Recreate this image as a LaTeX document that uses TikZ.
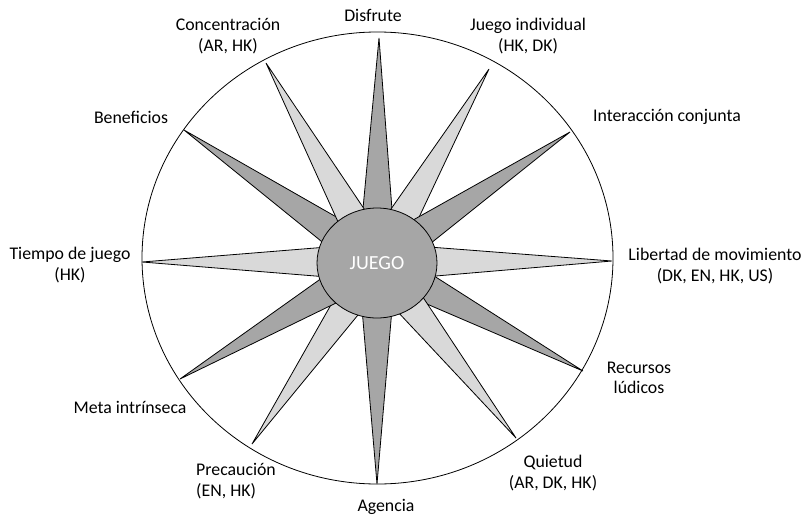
\documentclass[tikz,border=0pt]{standalone}
\usepackage{fontspec}
\setmainfont{Carlito}
\usetikzlibrary{calc,shapes.geometric}
\definecolor{darkspike}{RGB}{166,166,166}
\definecolor{lightspike}{RGB}{217,217,217}
\tikzset{
  lbl/.style={align=center, inner sep=0pt, font=\fontsize{17.8}{20.5}\selectfont},
  darkray/.style={fill=darkspike, draw=black, line width=0.8pt, line join=miter},
  lightray/.style={fill=lightspike, draw=black, line width=0.8pt, line join=miter},
}
\begin{document}
\begin{tikzpicture}[x=1pt,y=-1pt]
\useasboundingbox (0,0) rectangle (803,519);
% outer ellipse
\draw[line width=0.8pt] (377.5,258) ellipse [x radius=235.5, y radius=226];
\coordinate (C) at (377,262);
% tips
\coordinate (tDis) at (379,38);
\coordinate (tJue) at (489,69);
\coordinate (tInt) at (570,132);
\coordinate (tLib) at (612,261);
\coordinate (tRec) at (583,371);
\coordinate (tQui) at (516,438);
\coordinate (tAge) at (377,484);
\coordinate (tPre) at (252,444);
\coordinate (tMet) at (180,379);
\coordinate (tTie) at (142,262);
\coordinate (tBen) at (184,130);
\coordinate (tCon) at (266,63);
% rays
\foreach \t/\s in {tDis/darkray,tJue/lightray,tInt/darkray,tLib/lightray,tRec/darkray,tQui/lightray,tAge/darkray,tPre/lightray,tMet/darkray,tTie/lightray,tBen/darkray,tCon/lightray}{
  \draw[\s] (\t) -- ($(C)!19pt!90:(\t)$) -- ($(C)!19pt!-90:(\t)$) -- cycle;
}
% centre
\node[ellipse, draw=black, line width=0.8pt, fill=darkspike, minimum width=120pt, minimum height=110pt, inner sep=0pt, text=white, font=\fontsize{20}{22}\selectfont] (juego) at (377,263) {JUEGO};
% labels
\node[lbl] (lDis) at (373,15) {Disfrute};
\node[lbl] (lCon) at (228,36) {Concentración\\(AR, HK)};
\node[lbl] (lJue) at (528,36) {Juego individual\\(HK, DK)};
\node[lbl] (lInt) at (667,117) {Interacción conjunta};
\node[lbl] (lBen) at (131,117) {Beneficios};
\node[lbl] (lTie) at (70,265) {Tiempo de juego\\(HK)};
\node[lbl] (lLib) at (715,266) {Libertad de movimiento\\(DK, EN, HK, US)};
\node[lbl] (lRec) at (639,378) {Recursos\\lúdicos};
\node[lbl] (lQui) at (553,473) {Quietud\\(AR, DK, HK)};
\node[lbl] (lAge) at (386,507) {Agencia};
\node[lbl, align=left, anchor=west] (lPre) at (196,481) {Precaución\\(EN, HK)};
\node[lbl] (lMet) at (130,407) {Meta intrínseca};
\end{tikzpicture}
\end{document}
